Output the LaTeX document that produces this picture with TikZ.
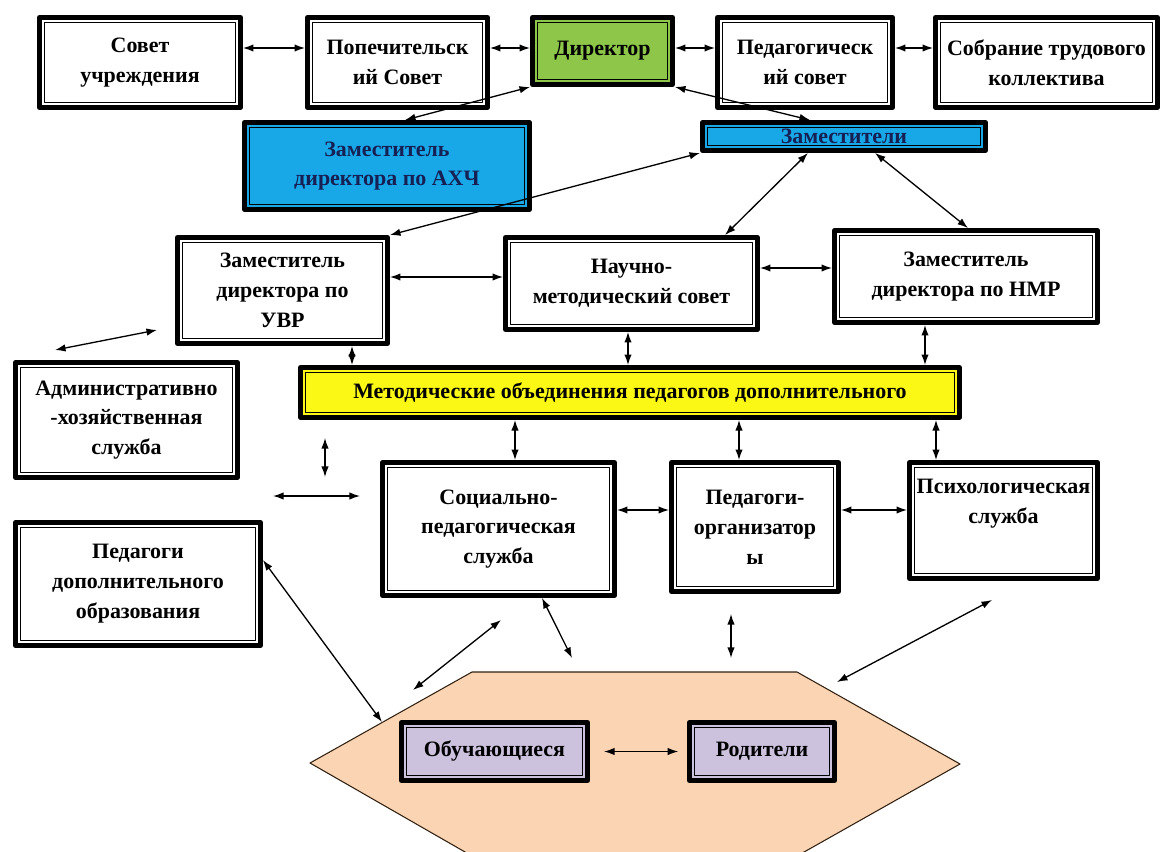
\documentclass[tikz,border=0pt]{standalone}
\usepackage{fontspec}
\setmainfont{Liberation Serif}
\usetikzlibrary{arrows.meta}
\definecolor{dirgreen}{RGB}{141,198,72}
\definecolor{zamblue}{RGB}{24,168,232}
\definecolor{metyellow}{RGB}{250,248,20}
\definecolor{uchlilac}{RGB}{204,194,222}
\definecolor{hexpeach}{RGB}{251,212,180}
\definecolor{navytext}{RGB}{22,32,84}
\tikzset{
  box/.style={draw, line width=2.8pt, fill=white, inner sep=0pt, align=center,
    font=\bfseries\fontsize{12.5}{17}\selectfont,
    path picture={\draw[line width=0.6pt]
      ([shift={(3pt,3pt)}]path picture bounding box.south west) rectangle
      ([shift={(-3pt,-3pt)}]path picture bounding box.north east);}},
  dbl/.style={<->, line width=0.75pt},
}
\begin{document}
\begin{tikzpicture}[x=0.02cm, y=-0.02cm, >={Latex[length=6pt,width=4.2pt]}, line join=round]
	\useasboundingbox (0,0) rectangle (1167,852);
	% hexagon of pupils and parents
	\path
	(310,763) coordinate (H1)
	(472,672) coordinate (H2)
	(797,672) coordinate (H3)
	(960,764) coordinate (H4)
	(797,856) coordinate (H5)
	(472,856) coordinate (H6)
	;
	\draw[fill=hexpeach, draw=black!75!brown, line width=0.6pt]
	(H1)--(H2)--(H3)--(H4)--(H5)--(H6)--cycle
	;
	% top row
	\node[box, minimum width=4.02cm, minimum height=1.8cm] (sovet) at (140,62.5) {Совет\\учреждения};
	\node[box, minimum width=3.6cm, minimum height=1.8cm] (popech) at (397.5,62.5) {Попечительск\\ий Совет};
	\node[box, fill=dirgreen, minimum width=2.8cm, minimum height=1.34cm] (dir) at (602.5,51) {Директор};
	\node[box, minimum width=3.5cm, minimum height=1.8cm] (pedsov) at (805,62.5) {Педагогическ\\ий совет};
	\node[box, minimum width=4.44cm, minimum height=1.8cm] (sobr) at (1046.5,62.5) {Собрание трудового\\коллектива};
	% deputies
	\node[box, fill=zamblue, text=navytext, minimum width=5.7cm, minimum height=1.74cm] (axch) at (387,166) {Заместитель\\директора по АХЧ};
	\node[box, fill=zamblue, text=navytext, minimum width=5.66cm, minimum height=0.56cm] (zam) at (844,136.5) {Заместители};
	\node[box, minimum width=4.2cm, minimum height=2.12cm] (uvr) at (282.5,290.5) {Заместитель\\директора по\\УВР};
	\node[box, minimum width=5.04cm, minimum height=1.84cm] (nms) at (631.5,283.5) {Научно-\\методический совет};
	\node[box, minimum width=5.26cm, minimum height=1.84cm] (nmr) at (966,276.5) {Заместитель\\директора по НМР};
	% middle
	\node[box, fill=metyellow, minimum width=13.18cm, minimum height=1cm] (met) at (630,392.5) {Методические объединения педагогов дополнительного};
	\node[box, minimum width=4.44cm, minimum height=2.3cm] (adm) at (126.5,420) {Административно\\-хозяйственная\\служба};
	\node[box, minimum width=4.64cm, minimum height=2.66cm] (soc) at (498.5,529) {Социально-\\педагогическая\\служба};
	\node[box, minimum width=3.34cm, minimum height=2.58cm] (org) at (755,527) {Педагоги-\\организатор\\ы};
	\node[box, minimum width=3.76cm, minimum height=2.32cm] (psy) at (1003.5,520.5) {Психологическая\\служба\\\strut};
	\node[box, minimum width=4.9cm, minimum height=2.46cm] (pdo) at (138,584) {Педагоги\\дополнительного\\образования};
	% inside the hexagon
	\node[box, fill=uchlilac, minimum width=3.72cm, minimum height=1.16cm] (obu) at (494.5,751.5) {Обучающиеся};
	\node[box, fill=uchlilac, minimum width=2.9cm, minimum height=1.16cm] (rod) at (762,751.5) {Родители};
	% loose arrow ends
	\path
	(55,350) coordinate (fa1) (157,330) coordinate (fa2)
	(325,438) coordinate (fb1) (325,477) coordinate (fb2)
	(273,496) coordinate (fc1) (360,496) coordinate (fc2)
	(382,722) coordinate (hp)
	(501,620) coordinate (fs1) (413,690) coordinate (hs1)
	(572,658) coordinate (hs2)
	(731,614) coordinate (fo) (731,658) coordinate (ho)
	(992,600) coordinate (fp) (837,682) coordinate (hq)
	;
	\draw[dbl]
	(sovet.east |- 0,48) -- (popech.west |- 0,48)
	;
	\draw[dbl] (popech.east |- 0,48) -- (dir.west |- 0,48);
	\draw[dbl] (dir.east |- 0,48) -- (pedsov.west |- 0,48);
	\draw[dbl] (pedsov.east |- 0,48) -- (sobr.west |- 0,48);
	\draw[dbl] (dir.south west) -- (axch.north -| 405,0);
	\draw[dbl] (dir.south east) -- (zam.north -| 810,0);
	\draw[dbl] (zam.south west) -- (uvr.north east);
	\draw[dbl] (zam.south -| 808,0) -- (nms.north -| 725,0);
	\draw[dbl] (zam.south -| 875,0) -- (nmr.north -| 968,0);
	\draw[dbl] (uvr.east |- 0,277) -- (nms.west |- 0,277);
	\draw[dbl] (nms.east |- 0,268) -- (nmr.west |- 0,268);
	\foreach \a/\b/\x in {uvr/met/352,nms/met/628,nmr/met/925,met/soc/515,met/org/739,met/psy/936}
	\draw[dbl] (\a.south -| \x,0) -- (\b.north -| \x,0)
	;
	\draw[dbl] (soc.east |- 0,510) -- (org.west |- 0,510);
	\draw[dbl] (org.east |- 0,510) -- (psy.west |- 0,510);
	\draw[dbl] (fa1) -- (fa2);
	\draw[dbl] (fb1) -- (fb2);
	\draw[dbl] (fc1) -- (fc2);
	\draw[dbl] (pdo.east |- 0,560) -- (hp);
	\draw[dbl] (fs1) -- (hs1);
	\draw[dbl] (soc.south -| 542,0) -- (hs2);
	\draw[dbl] (fo) -- (ho);
	\draw[dbl] (fp) -- (hq);
	\draw[dbl, shorten <=8pt, shorten >=5pt] (obu) -- (rod);
\end{tikzpicture}
\end{document}
